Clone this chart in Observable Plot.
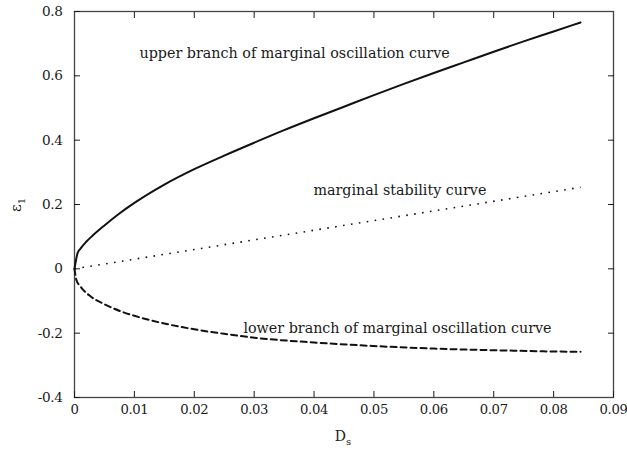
<!DOCTYPE html>
<html>
<head>
<meta charset="utf-8">
<script src="https://cdn.jsdelivr.net/npm/d3@7"></script>
<script src="https://cdn.jsdelivr.net/npm/@observablehq/plot@0.6"></script>
<style>
  html, body { margin: 0; padding: 0; background: #fff; }
  #chart svg { display: block; }
  #chart svg, #chart svg text { font-family: "DejaVu Serif", serif !important; }
  #chart svg g[aria-label="x-axis tick label"] text,
  #chart svg g[aria-label="y-axis tick label"] text { letter-spacing: -0.35px; }
</style>
</head>
<body>
<div id="chart"></div>
<script>
// ---- data ----
const upperX = [0, 0.0005, 0.001, 0.002, 0.003, 0.005, 0.0075, 0.01, 0.015, 0.02, 0.025, 0.03, 0.035, 0.04, 0.045, 0.05, 0.055, 0.06, 0.065, 0.07, 0.075, 0.08, 0.0845];
const upperY = [0, 0.048, 0.063, 0.085, 0.103, 0.135, 0.172, 0.205, 0.262, 0.31, 0.352, 0.392, 0.431, 0.468, 0.504, 0.54, 0.575, 0.609, 0.642, 0.675, 0.707, 0.738, 0.766];

const lowerX = [0, 0.0003, 0.001, 0.0027, 0.005, 0.0077, 0.01, 0.015, 0.02, 0.025, 0.03, 0.04, 0.05, 0.06, 0.07, 0.08, 0.0845];
const lowerY = [0, -0.034, -0.055, -0.086, -0.11, -0.132, -0.146, -0.170, -0.188, -0.202, -0.214, -0.229, -0.24, -0.248, -0.253, -0.257, -0.258];

const stabX = [0, 0.0845];
const stabY = [0, 0.2535];

const xTicks = [0, 0.01, 0.02, 0.03, 0.04, 0.05, 0.06, 0.07, 0.08, 0.09];
const yTicks = [-0.4, -0.2, 0, 0.2, 0.4, 0.6, 0.8];
const xTickLabels = ["0", "0.01", "0.02", "0.03", "0.04", "0.05", "0.06", "0.07", "0.08", "0.09"];
const yTickLabels = ["-0.4", "-0.2", "0", "0.2", "0.4", "0.6", "0.8"];

const annotations = [
  {x: 0.01085, y: 0.656, text: "upper branch of marginal oscillation curve"},
  {x: 0.0399, y: 0.229, text: "marginal stability curve"},
  {x: 0.0282, y: -0.198, text: "lower branch of marginal oscillation curve"}
];

// ---- build tables ----
const upper = upperX.map((x, i) => ({x, y: upperY[i]}));
const lower = lowerX.map((x, i) => ({x, y: lowerY[i]}));
const stab = stabX.map((x, i) => ({x, y: stabY[i]}));

const xFmt = d => xTickLabels[xTicks.findIndex(t => Math.abs(t - d) < 1e-9)];
const yFmt = d => yTickLabels[yTicks.findIndex(t => Math.abs(t - d) < 1e-9)];

const ink = "#1a1a1a";
const serif = "DejaVu Serif";

const chart = Plot.plot({
  width: 627,
  height: 452,
  marginLeft: 74,
  marginRight: 14,
  marginTop: 11,
  marginBottom: 55,
  style: {fontFamily: serif, fontSize: "14px", color: ink, background: "#fff"},
  x: {domain: [0, 0.09]},
  y: {domain: [-0.4, 0.8]},
  marks: [
    Plot.frame({stroke: "#444", strokeWidth: 1.3}),
    Plot.axisX(xTicks, {anchor: "bottom", tickSize: -6, tickPadding: 13, tickFormat: xFmt, label: null, stroke: ink, fill: ink, fontSize: 13.2}),
    Plot.axisX(xTicks.slice(1, -1), {anchor: "top", tickSize: -6, tickFormat: () => "", label: null, stroke: ink}),
    Plot.axisY(yTicks, {anchor: "left", tickSize: -6, tickPadding: 18, tickFormat: yFmt, label: null, stroke: ink, fill: ink, fontSize: 13.6}),
    Plot.axisY(yTicks.slice(1, -1), {anchor: "right", tickSize: -6, tickFormat: () => "", label: null, stroke: ink}),
    Plot.line(stab, {x: "x", y: "y", stroke: "#111", strokeWidth: 1.6, strokeDasharray: "1.6,6.4", strokeLinecap: "butt"}),
    Plot.line(lower, {x: "x", y: "y", stroke: "#111", strokeWidth: 2, strokeDasharray: "6,4", curve: "monotone-x"}),
    Plot.line(upper, {x: "x", y: "y", stroke: "#111", strokeWidth: 2, curve: "monotone-x"}),
    Plot.text(annotations, {x: "x", y: "y", text: "text", textAnchor: "start", lineAnchor: "bottom", fill: ink, fontSize: 14.3})
  ]
});

// axis titles with subscripts
const svg = d3.select(chart);
const yl = svg.append("text")
  .attr("transform", "translate(21,205) rotate(-90)")
  .attr("text-anchor", "middle")
  .attr("fill", ink)
  .attr("font-size", 15);
yl.append("tspan").text("ε");
yl.append("tspan").attr("font-size", 10).attr("dy", 4).text("1");

const xl = svg.append("text")
  .attr("transform", "translate(343,441)")
  .attr("text-anchor", "middle")
  .attr("fill", ink)
  .attr("font-size", 14);
xl.append("tspan").text("D");
xl.append("tspan").attr("font-size", 10).attr("dy", 4).text("s");

document.getElementById("chart").appendChild(chart);
</script>
</body>
</html>
